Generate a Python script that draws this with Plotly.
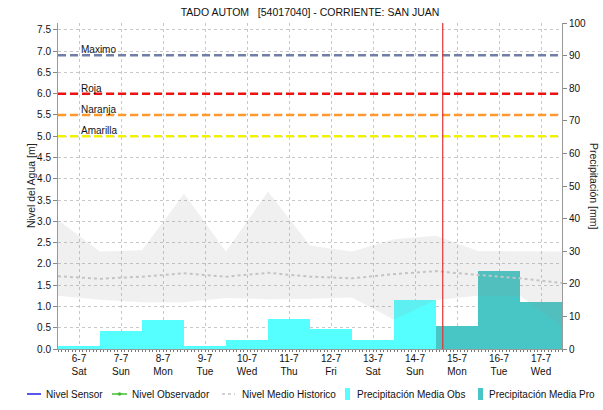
import plotly.graph_objects as go

# ---- data -------------------------------------------------------------
day_labels = ["6-7", "7-7", "8-7", "9-7", "10-7", "11-7", "12-7", "13-7", "14-7", "15-7", "16-7", "17-7"]
weekdays = ["Sat", "Sun", "Mon", "Tue", "Wed", "Thu", "Fri", "Sat", "Sun", "Mon", "Tue", "Wed"]

# daily precipitation [mm]: observed days, then forecast days
precip_obs = [1.0, 5.4, 8.8, 1.0, 2.9, 9.3, 6.0, 2.9, 14.9]
precip_pro = [7.2, 23.9, 14.4]

# historical level statistics [m] at each day boundary (00:00 of 6-7 ... 18-7)
hist_upper = [3.03, 2.29, 2.32, 3.65, 2.29, 3.70, 2.43, 2.29, 2.58, 2.66, 2.30, 2.29, 2.29]
hist_lower = [1.25, 1.16, 1.10, 1.10, 1.20, 1.17, 1.18, 1.21, 0.69, 1.15, 1.25, 1.25, 0.53]
hist_mean = [1.71, 1.65, 1.70, 1.78, 1.70, 1.79, 1.70, 1.66, 1.76, 1.83, 1.74, 1.66, 1.55]

# alert thresholds [m]
thresholds = [("Maximo", 6.9, "#6f7fa8"), ("Roja", 6.0, "#ee1111"),
              ("Naranja", 5.5, "#ff9a2a"), ("Amarilla", 5.0, "#f2f200")]

now_day = 9.16          # current time, in days since 6-7 00:00
level_max = 7.66        # left axis top [m]
precip_max = 100        # right axis top [mm]

FONT = "Liberation Sans, Arial, sans-serif"
C_OBS = "#55ffff"
C_PRO = "#48c6c6"

n_days = len(day_labels)
centers = [i + 0.5 for i in range(n_days)]
bounds = list(range(len(hist_mean)))

fig = go.Figure()

# precipitation bars (right axis)
fig.add_trace(go.Bar(x=centers[:len(precip_obs)], y=precip_obs, width=1,
                     marker=dict(color=C_OBS, line=dict(width=0)),
                     yaxis="y2", showlegend=False, name="Precipitación Media Obs"))
fig.add_trace(go.Bar(x=centers[len(precip_obs):], y=precip_pro, width=1,
                     marker=dict(color=C_PRO, line=dict(width=0)),
                     yaxis="y2", showlegend=False, name="Precipitación Media Pro"))

# historical band and mean, drawn above the bars
fig.add_trace(go.Scatter(x=bounds, y=hist_lower, mode="lines", line=dict(width=0),
                         yaxis="y3", showlegend=False, hoverinfo="skip"))
fig.add_trace(go.Scatter(x=bounds, y=hist_upper, mode="lines", line=dict(width=0),
                         fill="tonexty", fillcolor="rgba(150,150,150,0.14)",
                         yaxis="y3", showlegend=False, hoverinfo="skip"))
fig.add_trace(go.Scatter(x=bounds, y=hist_mean, mode="lines",
                         line=dict(color="#c4c4c4", width=2, dash="3px,3px"),
                         yaxis="y3", showlegend=False, name="Nivel Medio Historico"))

shapes = []
annotations = []

# threshold lines with labels
for name, val, col in thresholds:
    shapes.append(dict(type="line", xref="x", yref="y", x0=0, x1=n_days, y0=val, y1=val,
                       line=dict(color=col, width=2.5, dash="8px,4px"), layer="above"))
    annotations.append(dict(x=0.5, y=val, xref="x", yref="y", text=name, showarrow=False,
                            xanchor="left", yanchor="bottom", yshift=-2,
                            font=dict(family=FONT, size=10, color="#111")))

# current-time marker
shapes.append(dict(type="line", xref="x", yref="paper", x0=now_day, x1=now_day, y0=0, y1=1,
                   line=dict(color="rgba(225,45,45,0.9)", width=1.3), layer="above"))

L, W, B, H = 58, 504, 349, 326


def px(xp):
    return (xp - L) / W


def py(yp):
    return (B - yp) / H


# axis titles
annotations.append(dict(text="Nivel del Agua [m]", x=px(31), y=0.5, xref="paper", yref="paper",
                        xanchor="center", yanchor="middle", showarrow=False, textangle=-90,
                        font=dict(family=FONT, size=10.5, color="#222")))
annotations.append(dict(text="Precipitación [mm]", x=px(594), y=0.5, xref="paper", yref="paper",
                        xanchor="center", yanchor="middle", showarrow=False, textangle=90,
                        font=dict(family=FONT, size=10.5, color="#222")))

# legend row
leg_y = 394
legend_items = [
    ("line", "#2020e0", 27, 41, "Nivel Sensor", 44),
    ("marker", "#44bb33", 112, 127, "Nivel Observador", 130),
    ("dot", "#c4c4c4", 222, 235, "Nivel Medio Historico", 240),
    ("box", C_OBS, 345, 350, "Precipitación Media Obs", 355),
    ("box", C_PRO, 478, 483, "Precipitación Media Pro", 487),
]
for kind, col, a, b, label, tx in legend_items:
    if kind == "box":
        shapes.append(dict(type="rect", xref="paper", yref="paper", x0=px(a), x1=px(b),
                           y0=py(leg_y + 6), y1=py(leg_y - 6), fillcolor=col,
                           line=dict(width=0)))
    else:
        dash = "3px,3px" if kind == "dot" else None
        shapes.append(dict(type="line", xref="paper", yref="paper", x0=px(a), x1=px(b),
                           y0=py(leg_y), y1=py(leg_y),
                           line=dict(color=col, width=1.5, dash=dash)))
        if kind == "marker":
            m = (a + b) / 2
            shapes.append(dict(type="circle", xref="paper", yref="paper",
                               x0=px(m - 1.8), x1=px(m + 1.8), y0=py(leg_y + 1.8), y1=py(leg_y - 1.8),
                               fillcolor=col, line=dict(width=0)))
    annotations.append(dict(text=label, x=px(tx), y=py(leg_y), xref="paper", yref="paper",
                            xanchor="left", yanchor="middle", showarrow=False,
                            font=dict(family=FONT, size=10, color="#111")))

grid = dict(showgrid=True, gridcolor="#c8c8c8", griddash="dot", gridwidth=1)

fig.update_layout(
    width=603, height=410,
    margin=dict(l=L, r=603 - L - W, t=23, b=410 - B),
    paper_bgcolor="white", plot_bgcolor="white",
    font=dict(family=FONT, size=10, color="#222"),
    title=dict(text="TADO AUTOM   [54017040] - CORRIENTE: SAN JUAN", x=0.5, xref="paper",
               xanchor="center", y=1 - 12 / 410, yanchor="middle",
               font=dict(family=FONT, size=10.5, color="#111")),
    showlegend=False,
    bargap=0, barmode="overlay",
    xaxis=dict(range=[0, n_days], tickmode="array", tickvals=centers,
               ticktext=[f"{d}<br>{w}" for d, w in zip(day_labels, weekdays)],
               ticks="", showline=True, linecolor="#999", linewidth=1,
               tickfont=dict(family=FONT, size=10, color="#111"),
               minor=dict(dtick=1 / 12, ticks="outside", ticklen=2, tickcolor="#777",
                          showgrid=False),
               zeroline=False, **grid),
    yaxis=dict(range=[0, level_max], dtick=0.5, tickformat=".1f", ticks="outside", ticklen=4,
               tickcolor="#888", showline=True, linecolor="#999", linewidth=1,
               tickfont=dict(family=FONT, size=10, color="#111"), zeroline=False, **grid),
    yaxis2=dict(range=[0, precip_max], dtick=10, overlaying="y", side="right", ticks="outside",
                ticklen=4, tickcolor="#888", showline=True, linecolor="#999", linewidth=1,
                showgrid=False, zeroline=False,
                tickfont=dict(family=FONT, size=10, color="#111")),
    yaxis3=dict(range=[0, level_max], overlaying="y", visible=False),
    shapes=shapes,
    annotations=annotations,
)

fig.write_html("out.html")
